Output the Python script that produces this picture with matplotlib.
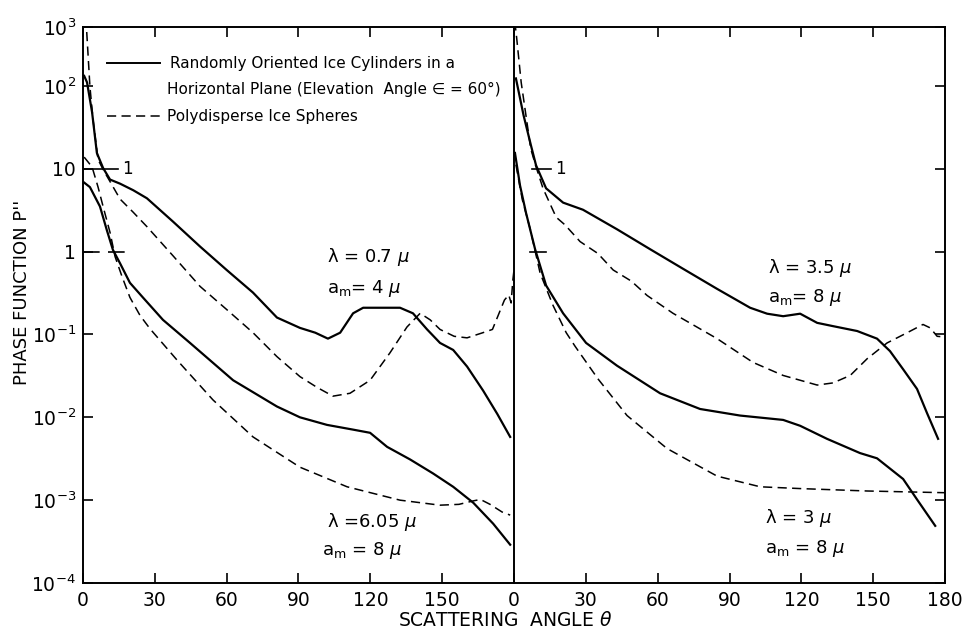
import matplotlib
matplotlib.use("Agg")
import matplotlib.pyplot as plt
from matplotlib.ticker import NullLocator

plt.rcParams['font.family'] = ['DejaVu Sans']

# ---- datos (angulo en grados, funcion de fase P'') ----
# panel izquierdo: lambda = 0.7 (curvas superiores, x10) y 6.05 micras
izq_sup_cil_ang = [0.5, 1.7, 3.8, 5.8, 8.4, 11.3, 15.5, 21, 26.7, 37.6, 48.9, 60, 71, 81, 90.6,
                   97, 102.3, 107.4, 112.8, 117, 125.3, 132.4, 137.8, 143.7, 149.1, 154.6,
                   160.4, 167.1, 173, 178.4]
izq_sup_cil = [132, 110, 48, 15.5, 10.2, 7.4, 6.6, 5.5, 4.4, 2.3, 1.15, 0.60, 0.32, 0.16, 0.12,
               0.105, 0.089, 0.105, 0.18, 0.21, 0.21, 0.21, 0.18, 0.115, 0.079, 0.065,
               0.041, 0.021, 0.011, 0.0058]

izq_sup_esf_ang = [1.0, 1.5, 2.9, 4.2, 6.3, 8.4, 15.5, 20.9, 26.7, 37.6, 48.9, 60, 71, 81, 90.6,
                   97.7, 104.4, 111.5, 119.9, 128.2, 135.3, 140.8, 145, 149.1, 155, 160.4,
                   167, 171, 176, 177.8, 178.8, 179.5, 180]
izq_sup_esf = [1000, 480, 98, 39, 12.9, 9.8, 4.3, 3.0, 2.0, 0.89, 0.38, 0.20, 0.105, 0.054, 0.031,
               0.023, 0.018, 0.0195, 0.028, 0.060, 0.123, 0.18, 0.15, 0.115, 0.095, 0.091,
               0.105, 0.115, 0.26, 0.30, 0.24, 0.45, 0.60]

izq_inf_cil_ang = [0.5, 2.9, 7.1, 10, 12.5, 15.5, 19.6, 25, 33.4, 44.7, 62.7, 81, 90.6, 101.9,
                   112.8, 119.9, 127, 136.6, 146.2, 154.6, 163, 171.3, 178.4]
izq_inf_cil = [6.8, 6.0, 3.5, 1.8, 1.05, 0.72, 0.42, 0.28, 0.15, 0.079, 0.028, 0.0135, 0.010, 0.0081,
               0.0071, 0.0065, 0.0044, 0.0031, 0.0021, 0.00145, 0.00093, 0.00052, 0.00029]

izq_inf_esf_ang = [0.5, 3.8, 6.3, 8.4, 11.3, 13.4, 16.3, 19.6, 23.8, 28, 39.3, 54.3, 71, 90.6,
                   110.3, 132.4, 149.1, 157, 163, 166, 170, 175, 178.4]
izq_inf_esf = [13.8, 10.5, 6.0, 3.5, 1.7, 0.87, 0.50, 0.28, 0.17, 0.117, 0.049, 0.0162, 0.0058, 0.0025,
               0.00145, 0.0010, 0.00087, 0.00089, 0.00098, 0.00102, 0.00089, 0.00072, 0.00066]

# panel derecho: lambda = 3.5 (curvas superiores, x10) y 3 micras
der_sup_cil_ang = [0.8, 4, 7.1, 9.2, 13.4, 20.5, 28.8, 43, 56.8, 70.6, 84.8, 98.6, 105.7, 112.4,
                   119.5, 126.6, 133.2, 143.3, 151.6, 157, 162.5, 168.3, 172.5, 177.1]
der_sup_cil = [123, 44, 19, 11, 5.8, 3.9, 3.2, 1.86, 1.07, 0.62, 0.355, 0.21, 0.178, 0.166,
               0.178, 0.138, 0.126, 0.11, 0.089, 0.063, 0.038, 0.022, 0.0112, 0.0055]

der_sup_esf_ang = [0.3, 1, 3, 7, 9, 12.1, 17.6, 21.3, 27.6, 35, 41.4, 49, 55.6, 66.4, 84.8, 99.8,
                   112.4, 126.6, 133.2, 140.4, 147.5, 155.8, 164.2, 170.8, 173.8, 176.7, 180]
der_sup_esf = [600, 407, 110, 17.4, 11, 5.8, 2.6, 2.1, 1.32, 0.95, 0.60, 0.44, 0.295, 0.18, 0.089, 0.046,
               0.032, 0.0245, 0.026, 0.032, 0.051, 0.079, 0.105, 0.132, 0.12, 0.095, 0.093]

der_inf_cil_ang = [0.4, 2.5, 5, 8.8, 13.4, 20.5, 30.1, 43, 61, 77.7, 94.4, 112.4, 119.5, 130.7,
                   144.5, 151.6, 162.5, 168.3, 175.9]
der_inf_cil = [15.5, 6.3, 2.95, 1.07, 0.39, 0.18, 0.079, 0.042, 0.0195, 0.0126, 0.0105, 0.0093,
               0.0079, 0.0055, 0.0037, 0.0032, 0.0018, 0.00102, 0.00049]

der_inf_esf_ang = [0.8, 3.5, 6.7, 10.9, 16.3, 21.8, 25.5, 35.1, 47.2, 63.9, 84.8, 102.8, 119.5,
                   147.5, 180]
der_inf_esf = [11.2, 4.2, 1.9, 0.55, 0.224, 0.105, 0.072, 0.029, 0.0105, 0.0042, 0.00195, 0.00145,
               0.00138, 0.00129, 0.00123]

ticks_x = [0, 30, 60, 90, 120, 150, 180]
etiq_x_izq = ['0', '30', '60', '90', '120', '150', '']
etiq_x_der = ['0', '30', '60', '90', '120', '150', '180']
ticks_y = [1e-4, 1e-3, 1e-2, 1e-1, 1, 10, 100]
etiq_y = [r'$10^{-4}$', r'$10^{-3}$', r'$10^{-2}$', r'$10^{-1}$', '1', '10', r'$10^{2}$']
y_tope = 10 ** 2.71   # el marco superior esta rotulado 10^3

#### FIGURA ####
fig = plt.figure(figsize=(9.66, 6.29), dpi=100)
ax1 = fig.add_axes([0.0859, 0.0731, 0.4462, 0.8839])
ax2 = fig.add_axes([0.5321, 0.0731, 0.4462, 0.8839], sharey=ax1)

sol = dict(color='black', lw=1.6)
guion = dict(color='black', lw=1.1, dashes=(6, 3.5))

ax1.plot(izq_sup_cil_ang, izq_sup_cil, **sol)
ax1.plot(izq_inf_cil_ang, izq_inf_cil, **sol)
ax1.plot(izq_sup_esf_ang, izq_sup_esf, **guion)
ax1.plot(izq_inf_esf_ang, izq_inf_esf, **guion)

ax2.plot(der_sup_cil_ang, der_sup_cil, **sol)
ax2.plot(der_inf_cil_ang, der_inf_cil, **sol)
ax2.plot(der_sup_esf_ang, der_sup_esf, **guion)
ax2.plot(der_inf_esf_ang, der_inf_esf, **guion)

for ax in (ax1, ax2):
    ax.set_yscale('log')
    ax.set_ylim(1e-4, y_tope)
    ax.set_xlim(0, 180)
    ax.set_xticks(ticks_x)
    ax.yaxis.set_minor_locator(NullLocator())
    ax.tick_params(direction='in', length=7, width=1.2, labelsize=13.5, top=True, pad=6)
    for s in ax.spines.values():
        s.set_linewidth(1.4)

ax1.set_xticklabels(etiq_x_izq)
ax2.set_xticklabels(etiq_x_der)
ax1.set_yticks(ticks_y + [y_tope])
ax1.set_yticklabels(etiq_y + [r'$10^{3}$'])
ax1.tick_params(axis='y', labelsize=13.5, pad=5)
ax1.spines['right'].set_visible(False)
ax2.tick_params(axis='y', left=False, labelleft=False, right=True)

# marcas de referencia "1"
ax1.plot([0, 14.5], [10, 10], color='black', lw=1.2)
ax1.text(16.5, 10, '1', fontsize=12, va='center')
ax1.plot([0, 18], [1, 1], color='black', lw=1.2, dashes=(10, 5))
ax2.plot([7.5, 15.5], [10, 10], color='black', lw=1.2)
ax2.text(17, 10, '1', fontsize=12, va='center')
ax2.plot([6.7, 13.4], [1, 1], color='black', lw=1.2)

# leyenda dibujada a mano
ax1.plot([0.056, 0.179], [0.935, 0.935], transform=ax1.transAxes, color='black', lw=1.4)
ax1.plot([0.056, 0.179], [0.84, 0.84], transform=ax1.transAxes, color='black', lw=1.1, dashes=(6, 3.5))
ax1.text(0.202, 0.935, 'Randomly Oriented Ice Cylinders in a', transform=ax1.transAxes,
         fontsize=11, va='center')
ax1.text(0.195, 0.888, 'Horizontal Plane (Elevation  Angle \u2208 = 60°)', transform=ax1.transAxes,
         fontsize=11, va='center')
ax1.text(0.195, 0.84, 'Polydisperse Ice Spheres', transform=ax1.transAxes,
         fontsize=11, va='center')

# rotulos de cada caso
ax1.text(102, 0.85, 'λ = 0.7 $\\mu$', fontsize=13, va='center')
ax1.text(102, 0.36, r'a$_\mathregular{m}$= 4 $\mu$', fontsize=13, va='center')
ax1.text(102, 5.5e-4, 'λ =6.05 $\\mu$', fontsize=13, va='center')
ax1.text(100, 2.5e-4, r'a$_\mathregular{m}$ = 8 $\mu$', fontsize=13, va='center')
ax2.text(106, 0.63, 'λ = 3.5 $\\mu$', fontsize=13, va='center')
ax2.text(106, 0.28, r'a$_\mathregular{m}$= 8 $\mu$', fontsize=13, va='center')
ax2.text(105, 6.1e-4, 'λ = 3 $\\mu$', fontsize=13, va='center')
ax2.text(105, 2.6e-4, r'a$_\mathregular{m}$ = 8 $\mu$', fontsize=13, va='center')

fig.text(0.023, 0.535, "PHASE FUNCTION P''", rotation=90, fontsize=13, ha='center', va='center')
fig.text(0.523, 0.013, r'SCATTERING  ANGLE $\theta$', fontsize=13.5, ha='center', va='center')

fig.savefig('out.png', dpi=100)
